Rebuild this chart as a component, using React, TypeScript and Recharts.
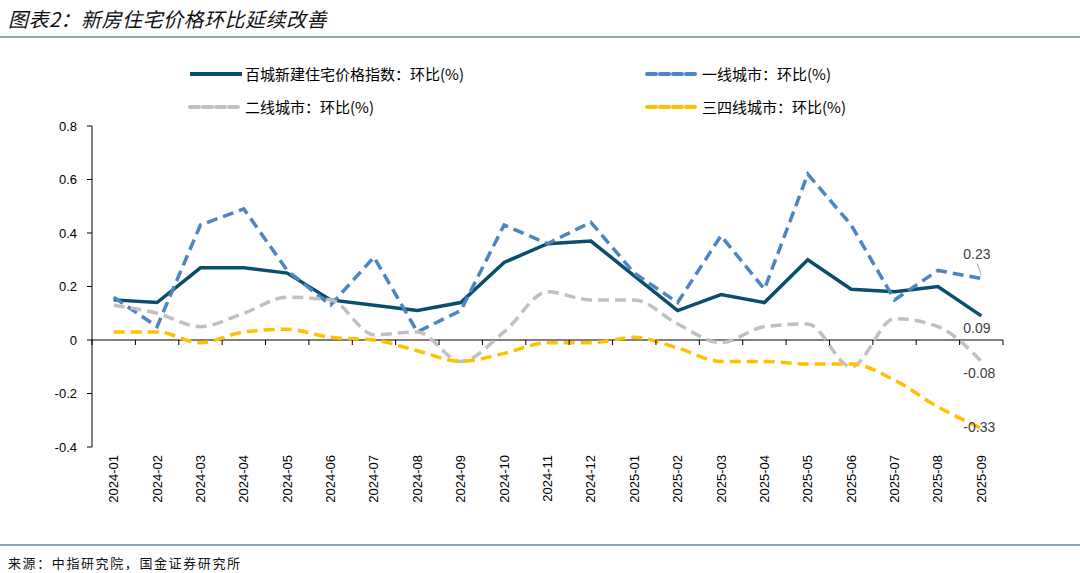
import { LineChart, Line, XAxis, YAxis, ReferenceLine, LabelList } from "recharts";

const months = [
  "2024-01", "2024-02", "2024-03", "2024-04", "2024-05", "2024-06", "2024-07",
  "2024-08", "2024-09", "2024-10", "2024-11", "2024-12", "2025-01", "2025-02",
  "2025-03", "2025-04", "2025-05", "2025-06", "2025-07", "2025-08", "2025-09",
];
const hundredCity = [0.15, 0.14, 0.27, 0.27, 0.25, 0.15, 0.13, 0.11, 0.14, 0.29, 0.36, 0.37, 0.24, 0.11, 0.17, 0.14, 0.30, 0.19, 0.18, 0.20, 0.09];
const tier1 = [0.16, 0.05, 0.43, 0.49, 0.26, 0.13, 0.31, 0.03, 0.11, 0.43, 0.36, 0.44, 0.25, 0.14, 0.39, 0.19, 0.62, 0.43, 0.15, 0.26, 0.23];
const tier2 = [0.13, 0.10, 0.05, 0.10, 0.16, 0.15, 0.02, 0.03, -0.08, 0.03, 0.18, 0.15, 0.15, 0.06, -0.01, 0.05, 0.06, -0.10, 0.08, 0.05, -0.08];
const tier34 = [0.03, 0.03, -0.01, 0.03, 0.04, 0.01, 0.00, -0.04, -0.08, -0.05, -0.01, -0.01, 0.01, -0.03, -0.08, -0.08, -0.09, -0.09, -0.15, -0.25, -0.33];
const yTicks = [0.8, 0.6, 0.4, 0.2, 0, -0.2, -0.4];

const data = months.map((m, i) => ({
  month: m,
  main: hundredCity[i],
  t1: tier1[i],
  t2: tier2[i],
  t34: tier34[i],
}));

const series = [
  { key: "main", name: "百城新建住宅价格指数：环比(%)", color: "#0b4d6d", dash: undefined, curve: "linear", dy: 12 },
  { key: "t1", name: "一线城市：环比(%)", color: "#4a86c4", dash: "11 6", curve: "linear", dy: -24 },
  { key: "t2", name: "二线城市：环比(%)", color: "#c0c0c0", dash: "11 6", curve: "monotone", dy: 12 },
  { key: "t34", name: "三四线城市：环比(%)", color: "#ffc000", dash: "11 6", curve: "monotone", dy: -1 },
];

const W = 1080;
const H = 573;
const PLOT_LEFT = 92;
const PLOT_RIGHT = 1003;
const PLOT_TOP = 126;
const PLOT_BOTTOM = 447;
const band = (PLOT_RIGHT - PLOT_LEFT) / months.length;
const zeroY = PLOT_TOP + ((0.8 - 0) / 1.2) * (PLOT_BOTTOM - PLOT_TOP);

const font = "'Liberation Sans', Arial, sans-serif";
const cjk = "'Noto Sans CJK SC', 'Liberation Sans', sans-serif";

function XTick(props: any) {
  const { x, payload, index } = props;
  return (
    <g>
      <line x1={x - band / 2} x2={x - band / 2} y1={zeroY} y2={zeroY + 5} stroke="#000" />
      {index === months.length - 1 && (
        <line x1={x + band / 2} x2={x + band / 2} y1={zeroY} y2={zeroY + 5} stroke="#000" />
      )}
      <text
        x={x}
        y={PLOT_BOTTOM + 8}
        transform={`rotate(-90 ${x} ${PLOT_BOTTOM + 8})`}
        textAnchor="end"
        dominantBaseline="central"
        fontSize={13}
        fontFamily={font}
        fill="#000"
      >
        {payload.value}
      </text>
    </g>
  );
}

function endLabel(dy: number, leader: boolean) {
  return (props: any) => {
    const { x, y, index, value } = props;
    if (index !== months.length - 1) return null;
    return (
      <g>
        {leader && <line x1={x - 4} y1={y + dy + 9} x2={x} y2={y - 3} stroke="#a6a6a6" />}
        <text
          x={x - 18}
          y={y + dy}
          dominantBaseline="central"
          fontSize={14}
          fontFamily={font}
          fill="#404040"
        >
          {Number(value).toFixed(2)}
        </text>
      </g>
    );
  };
}

function LegendItem({ s }: { s: (typeof series)[number] }) {
  return (
    <div style={{ display: "flex", alignItems: "center" }}>
      <svg width={56} height={10}>
        <line
          x1={2}
          x2={54}
          y1={5}
          y2={5}
          stroke={s.color}
          strokeWidth={4}
          strokeDasharray={s.dash ? "9 4" : undefined}
          strokeLinecap={s.dash ? "round" : "butt"}
        />
      </svg>
      <span style={{ fontFamily: cjk, fontSize: 15, color: "#000", marginLeft: 1 }}>{s.name}</span>
    </div>
  );
}

export default function App() {
  return (
    <div style={{ position: "absolute", left: 0, top: 0, width: W, height: H, background: "#fff", overflow: "hidden" }}>
      <div
        style={{
          position: "absolute",
          left: 8,
          top: 4,
          fontFamily: cjk,
          fontSize: 20,
          fontStyle: "italic",
          fontWeight: 400,
          color: "#111",
          letterSpacing: 0.5,
        }}
      >
        图表2：新房住宅价格环比延续改善
      </div>
      <div style={{ position: "absolute", left: 0, top: 36, width: W, height: 2, background: "#8ea4ba" }} />

      <LineChart
        width={W}
        height={H}
        data={data}
        margin={{ top: PLOT_TOP, right: W - PLOT_RIGHT, bottom: H - PLOT_BOTTOM - 70, left: PLOT_LEFT - 60 }}
      >
        <YAxis
          width={60}
          domain={[-0.4, 0.8]}
          ticks={yTicks}
          interval={0}
          allowDataOverflow
          tickFormatter={(v: number) => (v === 0 ? "0" : v.toFixed(1))}
          tick={{ fontSize: 13, fontFamily: font, fill: "#000" }}
          tickLine={{ stroke: "#000" }}
          tickSize={5}
          tickMargin={10}
          axisLine={{ stroke: "#000" }}
        />
        <XAxis
          dataKey="month"
          height={70}
          interval={0}
          padding={{ left: band / 2, right: band / 2 }}
          axisLine={false}
          tickLine={false}
          tick={<XTick />}
        />
        <ReferenceLine y={0} stroke="#000" strokeWidth={1} />
        {series.map((s) => (
          <Line
            key={s.key}
            dataKey={s.key}
            name={s.name}
            type={s.curve as any}
            stroke={s.color}
            strokeWidth={3.5}
            strokeDasharray={s.dash}
            dot={false}
            activeDot={false}
            isAnimationActive={false}
          >
            <LabelList dataKey={s.key} content={endLabel(s.dy, s.key === "t1")} />
          </Line>
        ))}
      </LineChart>

      <div style={{ position: "absolute", left: 188, top: 63 }}>
        <LegendItem s={series[0]} />
      </div>
      <div style={{ position: "absolute", left: 645, top: 63 }}>
        <LegendItem s={series[1]} />
      </div>
      <div style={{ position: "absolute", left: 188, top: 96 }}>
        <LegendItem s={series[2]} />
      </div>
      <div style={{ position: "absolute", left: 645, top: 96 }}>
        <LegendItem s={series[3]} />
      </div>

      <div style={{ position: "absolute", left: 0, top: 544, width: W, height: 2, background: "#8ea4ba" }} />
      <div
        style={{
          position: "absolute",
          left: 8,
          top: 553,
          fontFamily: cjk,
          fontSize: 13,
          letterSpacing: 1.6,
          color: "#111",
        }}
      >
        来源：中指研究院，国金证券研究所
      </div>
    </div>
  );
}
